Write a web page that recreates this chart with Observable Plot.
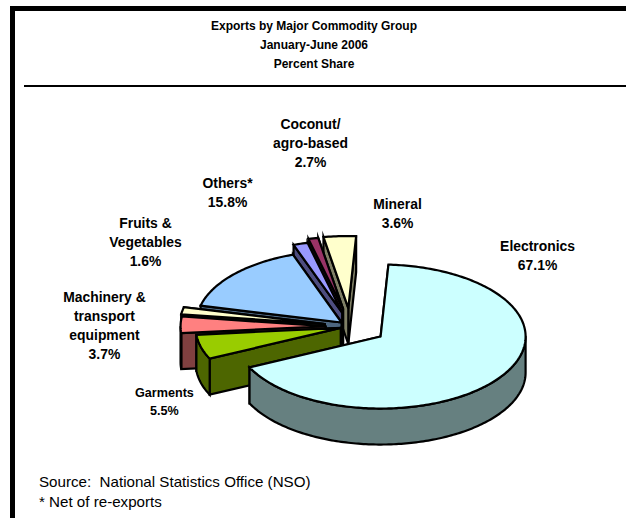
<!DOCTYPE html>
<html>
<head>
<meta charset="utf-8">
<script src="https://cdn.jsdelivr.net/npm/d3@7"></script>
<script src="https://cdn.jsdelivr.net/npm/@observablehq/plot@0.6"></script>
<style>
  html, body { margin: 0; padding: 0; background: #fff; }
  #page { position: relative; width: 626px; height: 518px; overflow: hidden; font-family: "Liberation Sans", Arial, sans-serif; color: #000; }
  #frame { position: absolute; left: 10px; top: 6px; right: -10px; bottom: -10px; border-left: 5px solid #000; border-top: 5px solid #000; }
  #title { position: absolute; left: 0; top: 16.5px; width: 628px; text-align: center; font-weight: bold; font-size: 12px; line-height: 19px; }
  #divider { position: absolute; left: 24px; right: 0; top: 85px; height: 2px; background: #000; }
  #chart { position: absolute; left: 0; top: 86px; }
  #notes { position: absolute; left: 39px; top: 472px; font-size: 15.15px; line-height: 20px; white-space: pre; }
</style>
</head>
<body>
<div id="page">
  <div id="frame"></div>
  <div id="title">Exports by Major Commodity Group<br>January-June 2006<br>Percent Share</div>
  <div id="divider"></div>
  <div id="chart"></div>
  <div id="notes">Source:  National Statistics Office (NSO)<br>* Net of re-exports</div>
</div>
<script>
// Commodity groups in clockwise order; coconut and agro-based products share one label.
const categories = ["Electronics", "Garments", "Machinery", "Fruits", "Others", "Coconut", "Agro-based", "Mineral"];
const shares = [67.1, 5.5, 3.7, 1.6, 15.8, 1.6, 1.1, 3.6];

// Slice label texts and the groups each one covers.
const labelNames = ["Electronics", "Garments", "Machinery &\ntransport\nequipment", "Fruits &\nVegetables", "Others*", "Coconut/\nagro-based", "Mineral"];
const labelGroups = [["Electronics"], ["Garments"], ["Machinery"], ["Fruits"], ["Others"], ["Coconut", "Agro-based"], ["Mineral"]];

// Label anchors in pie-plane units (1 = one pie radius).
const labelX = [1.29, -1.283, -1.697, -1.414, -0.848, -0.276, 0.324];
const labelY = [1.007, -1.028, 0.028, 1.188, 1.875, 2.568, 1.59];

// Appearance of each slice: top colour and how far it is pulled from the centre.
const topColors = ["#CCFFFF", "#99CC00", "#FF8080", "#FFFFCC", "#99CCFF", "#9999FF", "#993366", "#FFFFCC"];
const explode = [0.25, 0.07, 0.172, 0.18, 0.083, 0.2, 0.25, 0.257];

// Pie layout: first slice start angle (degrees clockwise from the back) and wall height.
const startAngle = 3.1;
const depth = 0.5;
const paintOrder = [7, 6, 5, 4, 3, 2, 1, 0];

// Screen extents of the pie plane: pixels per radius and the pie centre in the chart box.
const width = 626, height = 384;
const radiusX = 145, radiusY = 72, centerX = 350, centerY = 240;

const total = d3.sum(shares);
const rad = (deg) => (deg * Math.PI) / 180;
const halfTone = (c) => {
  const { r, g, b } = d3.rgb(c);
  return d3.rgb(r / 2, g / 2, b / 2).formatHex();
};

// Angular extent of every slice, accumulated from the shares.
let running = startAngle;
const slices = categories.map((name, i) => {
  const a0 = running;
  const a1 = a0 + (shares[i] / total) * 360;
  running = a1;
  const mid = rad((a0 + a1) / 2);
  return {
    name, a0, a1,
    ox: explode[i] * Math.sin(mid),
    oy: explode[i] * Math.cos(mid),
    top: topColors[i],
    side: halfTone(topColors[i])
  };
});

// Rim points of a slice between two angles at a given height.
function rim(s, a0, a1, z) {
  const n = Math.max(1, Math.ceil(a1 - a0));
  return d3.range(n + 1).map((k) => {
    const a = rad(a0 + ((a1 - a0) * k) / n);
    return [s.ox + Math.sin(a), s.oy + Math.cos(a) + z];
  });
}

// Polygons for each slice, listed back to front so nearer faces cover farther ones.
const faces = [];
function addFace(id, fill, pts) {
  [...pts, pts[0]].forEach(([x, y]) => faces.push({ x, y, face: id, fill }));
}
paintOrder.forEach((i) => {
  const s = slices[i];
  const apexTop = [s.ox, s.oy], apexLow = [s.ox, s.oy - depth];
  // The trailing wall sits behind the leading one on the left side of the pie.
  [s.a1, s.a0].forEach((a, k) => {
    const [pTop] = rim(s, a, a + 1e-6, 0), [pLow] = rim(s, a, a + 1e-6, -depth);
    addFace(`${s.name}-wall-${k}`, s.side, [apexTop, pTop, pLow, apexLow]);
  });
  // The curved wall only faces the viewer on the front half of the circle.
  const a0 = Math.max(s.a0, 90), a1 = Math.min(s.a1, 270);
  if (a1 > a0) {
    addFace(`${s.name}-outer`, s.side, [...rim(s, a0, a1, 0), ...rim(s, a0, a1, -depth).reverse()]);
  }
  addFace(`${s.name}-top`, s.top, [apexTop, ...rim(s, s.a0, s.a1, 0)]);
});

const labels = labelNames.map((name, i) => {
  const value = d3.sum(labelGroups[i], (g) => shares[categories.indexOf(g)]);
  return { text: `${name}\n${value.toFixed(1)}%`, x: labelX[i], y: labelY[i], group: labelGroups[i][0] };
});

const textStyle = {
  x: "x", y: "y", text: "text",
  fontFamily: "Liberation Sans, Arial, sans-serif",
  fontWeight: "bold",
  fill: "#000",
  lineAnchor: "middle",
  textAnchor: "middle"
};

const chart = Plot.plot({
  width, height,
  margin: 0,
  axis: null,
  x: { domain: [-centerX / radiusX, (width - centerX) / radiusX], range: [0, width] },
  y: { domain: [(centerY - height) / radiusY, centerY / radiusY], range: [height, 0] },
  color: { type: "identity" },
  marks: [
    Plot.line(faces, {
      x: "x", y: "y", z: "face", fill: "fill",
      stroke: "#000", strokeWidth: 2.2, strokeLinejoin: "miter", strokeMiterlimit: 6
    }),
    Plot.text(labels.filter((d) => d.group !== "Garments"), { ...textStyle, fontSize: 13.9, lineHeight: 1.37 }),
    Plot.text(labels.filter((d) => d.group === "Garments"), { ...textStyle, fontSize: 12.6, lineHeight: 1.45 })
  ]
});
document.getElementById("chart").appendChild(chart);
</script>
</body>
</html>
